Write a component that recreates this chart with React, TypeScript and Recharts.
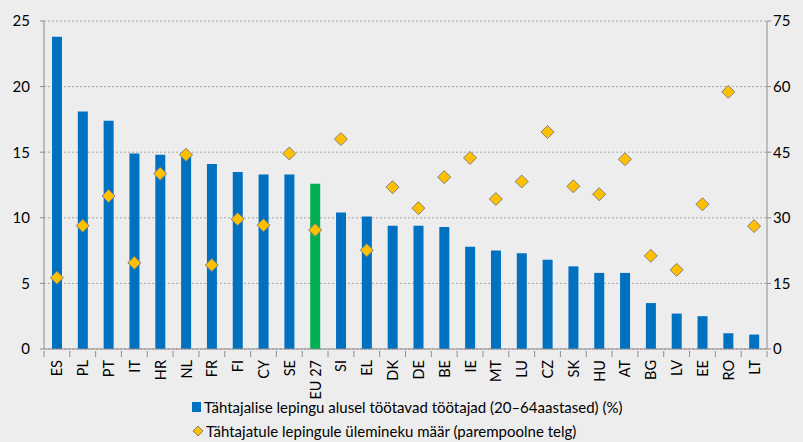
import React from 'react';
import { ComposedChart, Bar, Line, XAxis, YAxis, CartesianGrid, Legend, Cell } from 'recharts';

const countries = ['ES', 'PL', 'PT', 'IT', 'HR', 'NL', 'FR', 'FI', 'CY', 'SE', 'EU 27', 'SI', 'EL', 'DK', 'DE', 'BE', 'IE', 'MT', 'LU', 'CZ', 'SK', 'HU', 'AT', 'BG', 'LV', 'EE', 'RO', 'LT'];
const temporaryShare = [23.8, 18.1, 17.4, 14.9, 14.8, 14.7, 14.1, 13.5, 13.3, 13.3, 12.6, 10.4, 10.1, 9.4, 9.4, 9.3, 7.8, 7.5, 7.3, 6.8, 6.3, 5.8, 5.8, 3.5, 2.7, 2.5, 1.2, 1.1];
const transitionRate = [16.3, 28.2, 35.0, 19.7, 40.1, 44.4, 19.2, 29.7, 28.3, 44.7, 27.2, 48.0, 22.6, 37.0, 32.2, 39.3, 43.7, 34.3, 38.3, 49.6, 37.2, 35.4, 43.4, 21.3, 18.1, 33.1, 58.8, 28.1];
const leftTicks = [0, 5, 10, 15, 20, 25];
const rightTicks = [0, 15, 30, 45, 60, 75];

const seriesNames = [
  'Tähtajalise lepingu alusel töötavad töötajad (20–64aastased) (%)',
  'Tähtajatule lepingule ülemineku määr (parempoolne telg)',
];

const data = countries.map((c, i) => ({ name: c, share: temporaryShare[i], rate: transitionRate[i] }));

const BLUE = '#0070C0';
const GREEN = '#00B050';
const GOLD = '#FFC000';
const AXIS = '#8c8c8c';
const BAND = 723 / countries.length;

function CountryTick(props: any) {
  const { x, y, payload, index } = props;
  const base = y - 4;
  return (
    <g>
      <line x1={x - BAND / 2} x2={x - BAND / 2} y1={base - 2} y2={base + 4} stroke={AXIS} />
      {index === countries.length - 1 && (
        <line x1={x + BAND / 2} x2={x + BAND / 2} y1={base - 2} y2={base + 4} stroke={AXIS} />
      )}
      <text
        transform={`translate(${x},${y + 3}) rotate(-90)`}
        textAnchor="end"
        dominantBaseline="central"
        fontSize={14.5}
        fill="#000"
      >
        {payload.value}
      </text>
    </g>
  );
}

function Diamond(props: any) {
  const { cx, cy, index } = props;
  if (cx == null || cy == null) return <g key={index} />;
  const r = 6.5;
  return (
    <polygon
      key={index}
      points={`${cx},${cy - r} ${cx + r},${cy} ${cx},${cy + r} ${cx - r},${cy}`}
      fill={GOLD}
      stroke="#808080"
      strokeWidth={1}
    />
  );
}

function LegendBox() {
  return (
    <div style={{ paddingLeft: 192, marginTop: -4, fontSize: 15, color: '#000', lineHeight: '24px', textAlign: 'left' }}>
      <div style={{ display: 'flex', alignItems: 'center' }}>
        <span style={{ display: 'inline-block', width: 9, height: 10, background: BLUE, marginRight: 3 }} />
        <span>{seriesNames[0]}</span>
      </div>
      <div style={{ display: 'flex', alignItems: 'center' }}>
        <svg width={12} height={12} style={{ marginRight: 2 }}>
          <polygon points="6,1 11,6 6,11 1,6" fill={GOLD} stroke="#808080" strokeWidth={1} />
        </svg>
        <span>{seriesNames[1]}</span>
      </div>
    </div>
  );
}

export default function App() {
  return (
    <div style={{ position: 'absolute', left: 0, top: 0, width: 803, height: 442, background: '#EDEDED', fontFamily: 'Lato, "Open Sans", sans-serif' }}>
      <ComposedChart width={803} height={442} data={data} margin={{ top: 21, right: 0, left: 0, bottom: 0 }} barGap={0}>
        <CartesianGrid vertical={false} stroke="#a6a6a6" strokeDasharray="2 2" yAxisId="left" />
        <XAxis dataKey="name" interval={0} height={50} tickLine={false} axisLine={{ stroke: AXIS }} tick={<CountryTick />} />
        <YAxis
          yAxisId="left"
          domain={[0, 25]}
          ticks={leftTicks}
          width={44}
          tickSize={4}
          tickMargin={10}
          axisLine={{ stroke: AXIS }}
          tickLine={{ stroke: AXIS }}
          tick={{ fontSize: 15, fill: '#000' }}
        />
        <YAxis
          yAxisId="right"
          orientation="right"
          domain={[0, 75]}
          ticks={rightTicks}
          width={36}
          tickSize={4}
          tickMargin={2}
          axisLine={{ stroke: AXIS }}
          tickLine={{ stroke: AXIS }}
          tick={{ fontSize: 15, fill: '#000' }}
        />
        <Legend verticalAlign="bottom" height={43} content={<LegendBox />} />
        <Bar yAxisId="left" dataKey="share" barSize={10} isAnimationActive={false}>
          {data.map((d, i) => (
            <Cell key={i} fill={d.name === 'EU 27' ? GREEN : BLUE} />
          ))}
        </Bar>
        <Line
          yAxisId="right"
          dataKey="rate"
          stroke="none"
          dot={Diamond}
          activeDot={false}
          isAnimationActive={false}
        />
      </ComposedChart>
    </div>
  );
}
